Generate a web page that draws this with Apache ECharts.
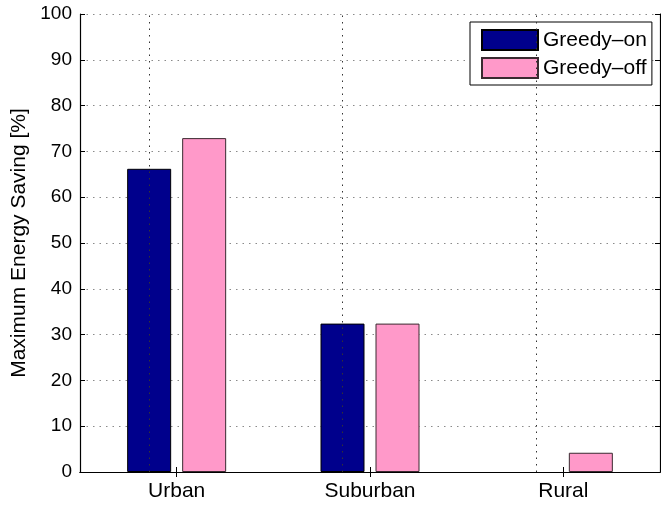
<!DOCTYPE html>
<html>
<head>
<meta charset="utf-8">
<script src="https://cdn.jsdelivr.net/npm/echarts@6/dist/echarts.min.js"></script>
<style>
  html, body { margin: 0; padding: 0; background: #fff; }
  #chart { width: 661px; height: 508px; }
</style>
</head>
<body>
<div id="chart"></div>
<script>
// Scenario categories and per-strategy maximum energy saving (%)
const categories = ['Urban', 'Suburban', 'Rural'];
const greedyOn = [66.2, 32.4, 0];
const greedyOff = [72.9, 32.4, 4.2];
const seriesNames = ['Greedy–on', 'Greedy–off'];
const yTicks = { min: 0, max: 100, interval: 10 };
const yTitle = 'Maximum Energy Saving [%]';

const FONT = "'Liberation Sans', Arial, Helvetica, sans-serif";
const gridDash = [1.5, 5];

const chart = echarts.init(document.getElementById('chart'), null, { renderer: 'canvas' });

const boxAxisLine = { show: true, lineStyle: { color: '#000', width: 1.2 } };

// zero-height bars get no outline so nothing is drawn on the baseline
const barData = (values) => values.map(v => (v === 0 ? { value: v, itemStyle: { borderWidth: 0 } } : v));

chart.setOption({
  animation: false,
  backgroundColor: '#fff',
  textStyle: { fontFamily: FONT },
  grid: { left: 80, right: 1, top: 14, bottom: 36, containLabel: false },
  legend: {
    data: seriesNames,
    orient: 'vertical',
    left: 470,
    top: 22,
    padding: [7, 5, 6, 11],
    itemGap: 6,
    itemWidth: 56,
    itemHeight: 20,
    icon: 'rect',
    borderColor: '#000',
    borderWidth: 1,
    backgroundColor: '#fff',
    textStyle: { fontFamily: FONT, fontSize: 21, lineHeight: 20, color: '#000' },
    selectedMode: false
  },
  xAxis: [
    {
      type: 'category',
      data: categories,
      boundaryGap: true,
      axisLine: boxAxisLine,
      axisTick: { show: true, inside: true, alignWithLabel: true, length: 5, lineStyle: { color: '#000' } },
      axisLabel: { fontFamily: FONT, fontSize: 21, color: '#000', margin: 9 },
      splitLine: { show: false }
    },
    {
      type: 'category',
      data: categories,
      position: 'top',
      boundaryGap: true,
      axisLine: boxAxisLine,
      axisTick: { show: true, inside: true, alignWithLabel: true, length: 5, lineStyle: { color: '#000' } },
      axisLabel: { show: false },
      splitLine: { show: false }
    }
  ],
  yAxis: [
    {
      type: 'value',
      min: yTicks.min,
      max: yTicks.max,
      interval: yTicks.interval,
      name: yTitle,
      nameLocation: 'middle',
      nameGap: 50,
      nameTextStyle: { fontFamily: FONT, fontSize: 21, color: '#000' },
      axisLine: boxAxisLine,
      axisTick: { show: true, inside: true, length: 5, lineStyle: { color: '#000' } },
      axisLabel: { fontFamily: FONT, fontSize: 19, color: '#000', margin: 8 },
      splitLine: { show: true, lineStyle: { color: '#8a8a8a', width: 1, type: gridDash } }
    },
    {
      type: 'value',
      position: 'right',
      min: yTicks.min,
      max: yTicks.max,
      interval: yTicks.interval,
      axisLine: boxAxisLine,
      axisTick: { show: true, inside: true, length: 5, lineStyle: { color: '#000' } },
      axisLabel: { show: false },
      splitLine: { show: false }
    }
  ],
  series: [
    {
      name: seriesNames[0],
      type: 'bar',
      data: barData(greedyOn),
      barWidth: 44,
      barGap: '25%',
      itemStyle: { color: '#00008c', borderColor: '#000', borderWidth: 1 },
      markLine: {
        silent: true,
        symbol: 'none',
        label: { show: false },
        lineStyle: { color: '#333', width: 1, type: gridDash },
        data: categories.map(c => ({ xAxis: c }))
      },
      z: 3
    },
    {
      name: seriesNames[1],
      type: 'bar',
      data: barData(greedyOff),
      barWidth: 44,
      barGap: '25%',
      itemStyle: { color: '#ff99c9', borderColor: '#3a2a30', borderWidth: 1 },
      z: 3
    }
  ]
});
</script>
</body>
</html>
